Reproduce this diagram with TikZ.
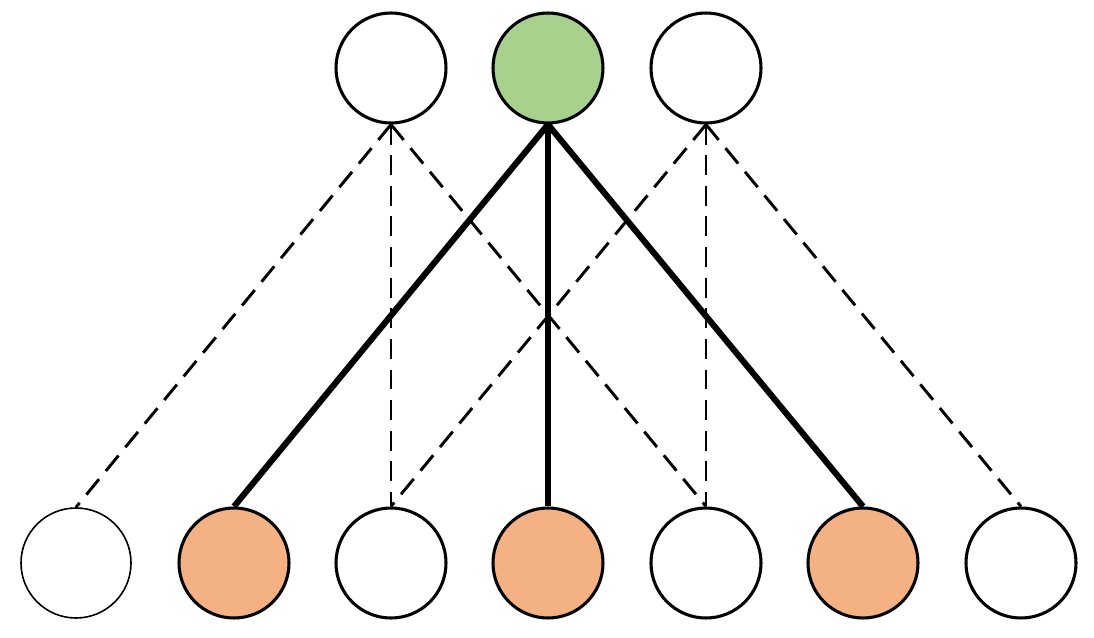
\documentclass[tikz,border=0pt]{standalone}
\begin{document}
\begin{tikzpicture}[x=0.0264cm,y=-0.0264cm,
  c/.style={circle,draw=black,line width=2.3pt,minimum size=110*0.0264cm,inner sep=0pt},
  dl/.style={line width=2.2pt,dash pattern=on 15pt off 8pt},
  tl/.style={line width=4.6pt}]
\useasboundingbox (0,0) rectangle (1094,638);
\definecolor{gr}{HTML}{A9D18E}\definecolor{or}{HTML}{F4B183}
\node[c] (t1) at (391,68) {};
\node[c,fill=gr] (t2) at (548,68) {};
\node[c] (t3) at (706,68) {};
\node[c,line width=1.2pt] (b1) at (76,563) {};
\node[c,fill=or] (b2) at (234,563) {};
\node[c] (b3) at (391,563) {};
\node[c,fill=or] (b4) at (548,563) {};
\node[c] (b5) at (706,563) {};
\node[c,fill=or] (b6) at (863,563) {};
\node[c] (b7) at (1021,563) {};
\draw[dl] (t1.south) -- (b1.north);
\draw[dl] (t1.south) -- (b3.north);
\draw[dl] (t1.south) -- (b5.north);
\draw[dl] (t3.south) -- (b3.north);
\draw[dl] (t3.south) -- (b5.north);
\draw[dl] (t3.south) -- (b7.north);
\draw[tl] (t2.south) -- (b2.north);
\draw[tl] (t2.south) -- (b4.north);
\draw[tl] (t2.south) -- (b6.north);
\end{tikzpicture}
\end{document}
